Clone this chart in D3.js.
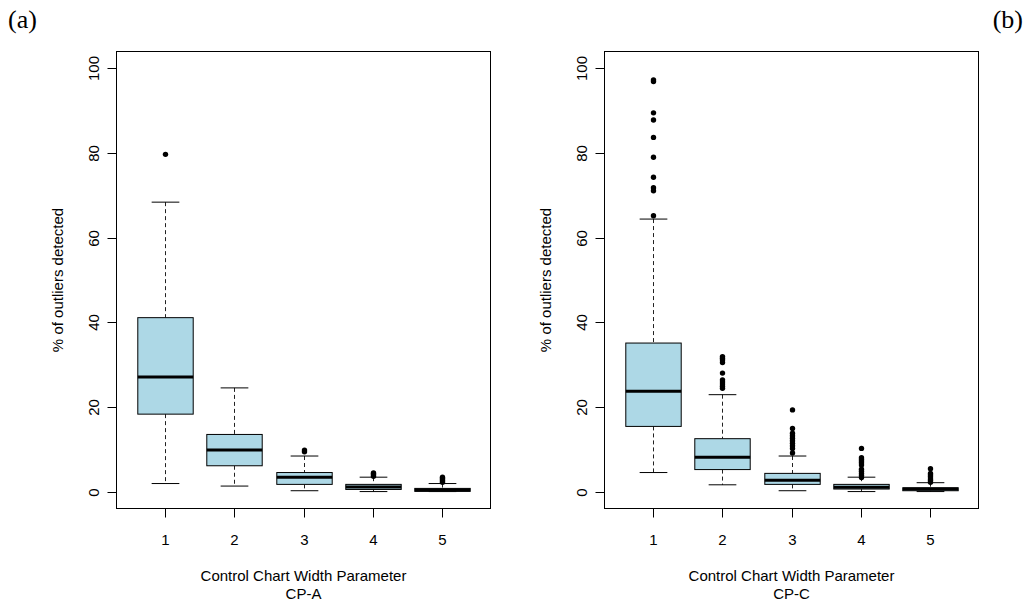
<!DOCTYPE html>
<html>
<head>
<meta charset="utf-8">
<script src="https://cdn.jsdelivr.net/npm/d3@7"></script>
<style>
  html, body { margin: 0; padding: 0; background: #fff; }
  svg { display: block; }
</style>
</head>
<body>
<svg id="chart" width="1030" height="604"></svg>
<script>
// ---------------- data ----------------
const categories = [1, 2, 3, 4, 5];
const yTicks = [0, 20, 40, 60, 80, 100];

// Panel (a) CP-A
const aWhiskerLow  = [1.9, 1.3, 0.2, 0.0, 0.0];
const aQ1          = [18.3, 6.1, 1.7, 0.5, 0.05];
const aMedian      = [27.1, 9.8, 3.4, 1.1, 0.35];
const aQ3          = [41.1, 13.5, 4.5, 1.7, 0.75];
const aWhiskerHigh = [68.4, 24.5, 8.4, 3.4, 1.9];
const aOutliers    = [
  [79.7],
  [],
  [9.4, 9.8],
  [3.6, 3.9, 4.2, 4.4],
  [2.2, 2.5, 2.8, 3.1, 3.4]
];

// Panel (b) CP-C
const bWhiskerLow  = [4.5, 1.6, 0.2, 0.0, 0.0];
const bQ1          = [15.4, 5.2, 1.7, 0.6, 0.2];
const bMedian      = [23.7, 8.1, 2.7, 1.0, 0.6];
const bQ3          = [35.1, 12.5, 4.3, 1.7, 0.9];
const bWhiskerHigh = [64.4, 22.9, 8.4, 3.4, 2.1];
const bOutliers    = [
  [97.3, 96.9, 89.5, 87.8, 83.7, 79.0, 74.3, 71.8, 71.1, 65.2],
  [31.9, 31.5, 31.1, 30.5, 28.0, 26.4, 25.9, 25.4, 24.9, 24.4],
  [19.3, 14.9, 13.8, 13.2, 12.6, 12.0, 11.4, 10.8, 10.2, 9.1],
  [10.2, 8.0, 7.6, 7.2, 6.8, 6.3, 5.3, 4.8, 4.3, 3.8, 3.3],
  [5.4, 4.3, 3.9, 3.5, 3.0, 2.6, 2.2]
];

const panels = [
  { tag: "(a)", sub: "CP-A", lo: aWhiskerLow, q1: aQ1, med: aMedian, q3: aQ3, hi: aWhiskerHigh, out: aOutliers },
  { tag: "(b)", sub: "CP-C", lo: bWhiskerLow, q1: bQ1, med: bMedian, q3: bQ3, hi: bWhiskerHigh, out: bOutliers }
];

const xTitle = "Control Chart Width Parameter";
const yTitle = "% of outliers detected";

// ---------------- layout ----------------
const svg = d3.select("#chart");
const sans = "'Liberation Sans', Arial, Helvetica, sans-serif";
const serif = "'Liberation Serif', 'Times New Roman', Times, serif";
const fill = "#ADD8E6";

const panelLefts = [116.5, 604.5];
const plotW = 374, plotTop = 51.5, plotBottom = 508.5;
const tickLen = 9;

panels.forEach((p, pi) => {
  const left = panelLefts[pi];
  const right = left + plotW;
  const x = d3.scaleLinear().domain([0.3, 5.7]).range([left, right]);
  const y = d3.scaleLinear().domain([-4, 104]).range([plotBottom, plotTop]);
  const g = svg.append("g");

  const bw = x(1.4) - x(1.0);   // half box width (0.8 total)
  const cw = x(1.2) - x(1.0);   // half staple width (0.4 total)

  categories.forEach((c, i) => {
    const cx = Math.round(x(c)) + 0.5;
    // whiskers (dashed)
    g.append("line").attr("x1", cx).attr("x2", cx)
      .attr("y1", y(p.hi[i])).attr("y2", y(p.q3[i]))
      .attr("stroke", "#222").attr("stroke-width", 1).attr("stroke-dasharray", "4,3");
    g.append("line").attr("x1", cx).attr("x2", cx)
      .attr("y1", y(p.q1[i])).attr("y2", y(p.lo[i]))
      .attr("stroke", "#222").attr("stroke-width", 1).attr("stroke-dasharray", "4,3");
    // staples
    [p.hi[i], p.lo[i]].forEach(v => {
      g.append("line").attr("x1", cx - cw).attr("x2", cx + cw)
        .attr("y1", y(v)).attr("y2", y(v))
        .attr("stroke", "#000").attr("stroke-width", 1);
    });
    // box
    g.append("rect")
      .attr("x", cx - bw).attr("width", 2 * bw)
      .attr("y", y(p.q3[i])).attr("height", Math.max(0, y(p.q1[i]) - y(p.q3[i])))
      .attr("fill", fill).attr("stroke", "#000").attr("stroke-width", 1);
    // median
    g.append("line").attr("x1", cx - bw).attr("x2", cx + bw)
      .attr("y1", y(p.med[i])).attr("y2", y(p.med[i]))
      .attr("stroke", "#000").attr("stroke-width", 3);
    // outliers
    g.selectAll(null).data(p.out[i]).enter().append("circle")
      .attr("cx", cx).attr("cy", d => y(d)).attr("r", 2.7).attr("fill", "#000");
  });

  // frame
  g.append("rect").attr("x", left).attr("y", plotTop)
    .attr("width", plotW).attr("height", plotBottom - plotTop)
    .attr("fill", "none").attr("stroke", "#000").attr("stroke-width", 1);

  // y axis ticks + labels
  yTicks.forEach(t => {
    const ty = Math.round(y(t)) + 0.5;
    g.append("line").attr("x1", left - tickLen).attr("x2", left)
      .attr("y1", ty).attr("y2", ty).attr("stroke", "#000").attr("stroke-width", 1);
    g.append("text")
      .attr("transform", `translate(${left - 18},${ty}) rotate(-90)`)
      .attr("text-anchor", "middle")
      .attr("font-family", sans).attr("font-size", 15)
      .text(t);
  });

  // x axis ticks + labels
  categories.forEach(c => {
    const cx = Math.round(x(c)) + 0.5;
    g.append("line").attr("x1", cx).attr("x2", cx)
      .attr("y1", plotBottom).attr("y2", plotBottom + tickLen)
      .attr("stroke", "#000").attr("stroke-width", 1);
    g.append("text").attr("x", cx).attr("y", 545)
      .attr("text-anchor", "middle")
      .attr("font-family", sans).attr("font-size", 15)
      .text(c);
  });

  const midX = (left + right) / 2;
  g.append("text").attr("x", midX).attr("y", 581)
    .attr("text-anchor", "middle").attr("font-family", sans).attr("font-size", 15)
    .text(xTitle);
  g.append("text").attr("x", midX).attr("y", 599)
    .attr("text-anchor", "middle").attr("font-family", sans).attr("font-size", 15)
    .text(p.sub);

  const midY = (plotTop + plotBottom) / 2;
  g.append("text")
    .attr("transform", `translate(${left - 54},${midY}) rotate(-90)`)
    .attr("text-anchor", "middle").attr("font-family", sans).attr("font-size", 15)
    .text(yTitle);
});

// panel tags
svg.append("text").attr("x", 8).attr("y", 28)
  .attr("font-family", serif).attr("font-size", 26).text(panels[0].tag);
svg.append("text").attr("x", 1023).attr("y", 28).attr("text-anchor", "end")
  .attr("font-family", serif).attr("font-size", 26).text(panels[1].tag);
</script>
</body>
</html>
